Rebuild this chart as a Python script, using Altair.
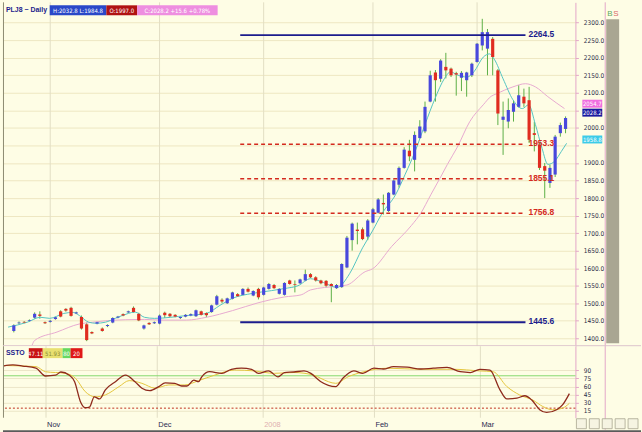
import altair as alt
import pandas as pd

# ---------------- data ----------------
bar_index = list(range(107))
opens = [1421, 1443, 1447, 1450, 1459, 1468, 1446, 1447, 1455, 1477,
         1484, 1487, 1471, 1461, 1440, 1418, 1442, 1428, 1435, 1445,
         1459, 1469, 1474, 1487, 1470, 1428, 1444, 1443, 1442, 1473,
         1470, 1467, 1458, 1462, 1465, 1463, 1477, 1472, 1475, 1496,
         1510, 1500, 1513, 1526, 1524, 1541, 1522, 1541, 1524, 1541,
         1552, 1527, 1524, 1565, 1555, 1557, 1565, 1583, 1574, 1565,
         1564, 1555, 1543, 1546, 1602, 1680, 1710, 1711, 1690, 1730,
         1758, 1786, 1763, 1810, 1838, 1886, 1935, 1909, 1971, 1990,
         2075, 2158, 2140, 2174, 2169, 2156, 2143, 2136, 2150, 2188,
         2235, 2226, 2254, 2164, 2023, 2018, 2046, 2060, 2089, 2079,
         1985, 1952, 1891, 1843, 1867, 1985, 1997]
highs = [1440, 1448, 1449, 1454, 1474, 1477, 1448, 1452, 1462, 1480,
         1486, 1490, 1476, 1465, 1445, 1420, 1448, 1431, 1440, 1460,
         1464, 1471, 1479, 1491, 1473, 1439, 1446, 1448, 1468, 1476,
         1472, 1469, 1462, 1469, 1471, 1482, 1479, 1474, 1496, 1524,
         1514, 1516, 1533, 1529, 1543, 1545, 1537, 1544, 1547, 1558,
         1555, 1543, 1560, 1567, 1565, 1570, 1596, 1586, 1577, 1567,
         1566, 1557, 1555, 1614, 1692, 1730, 1730, 1716, 1740, 1772,
         1800, 1810, 1817, 1853, 1890, 1945, 1966, 1990, 2022, 2075,
         2163, 2165, 2196, 2214, 2172, 2160, 2162, 2160, 2186, 2242,
         2311, 2282, 2259, 2168, 2075, 2084, 2079, 2122, 2112, 2117,
         2018, 1958, 1900, 1895, 1980, 2015, 2032.8]
lows = [1417, 1440, 1443, 1447, 1456, 1456, 1441, 1445, 1453, 1460,
        1476, 1462, 1469, 1425, 1392, 1412, 1440, 1419, 1432, 1443,
        1457, 1463, 1472, 1473, 1449, 1425, 1438, 1441, 1440, 1458,
        1460, 1460, 1455, 1460, 1463, 1461, 1465, 1460, 1473, 1494,
        1500, 1498, 1511, 1518, 1522, 1531, 1520, 1511, 1522, 1539,
        1541, 1525, 1522, 1553, 1531, 1555, 1563, 1572, 1562, 1554,
        1545, 1503, 1541, 1544, 1600, 1650, 1668, 1680, 1680, 1728,
        1756, 1753, 1760, 1808, 1830, 1884, 1905, 1876, 1969, 1985,
        2073, 2075, 2131, 2141, 2145, 2092, 2105, 2089, 2145, 2186,
        2221, 2150, 2150, 2008, 1923, 1999, 2018, 2058, 2060, 1957,
        1933, 1880, 1800, 1829, 1860, 1975, 1984.8]
closes = [1437, 1445, 1445, 1452, 1470, 1464, 1443, 1450, 1460, 1462,
          1479, 1464, 1474, 1428, 1395, 1414, 1446, 1421, 1438, 1458,
          1462, 1465, 1477, 1475, 1451, 1437, 1440, 1446, 1465, 1466,
          1463, 1462, 1461, 1467, 1469, 1480, 1467, 1466, 1494, 1520,
          1505, 1514, 1531, 1520, 1541, 1533, 1535, 1517, 1545, 1555,
          1543, 1541, 1558, 1555, 1553, 1568, 1583, 1574, 1565, 1557,
          1550, 1549, 1552, 1612, 1687, 1727, 1706, 1683, 1736, 1768,
          1796, 1782, 1815, 1850, 1886, 1938, 1919, 1980, 2004, 2060,
          2150, 2136, 2192, 2164, 2150, 2152, 2157, 2158, 2183, 2240,
          2273, 2273, 2202, 2041, 2032, 2051, 2070, 2093, 2070, 1966,
          1980, 1886, 1878, 1886, 1975, 2008, 2028.2]

month_idx = [7, 28, 48, 69, 89]
month_names = ["Nov", "Dec", "2008", "Feb", "Mar"]

ma_long_x = [3.5, 4.0, 8.3, 12.6, 15.2, 17.6, 21.4, 25.1, 28.3, 33.2, 37.0, 42.0,
             47.1, 52.0, 55.2, 57.0, 62.4, 64.0, 67.5, 68.9, 72.6, 76.4, 78.2,
             80.1, 82.0, 83.3, 85.2, 87.6, 90.2, 91.7, 92.7, 95.9, 98.3, 100.2,
             102.6, 105.8]
ma_long_y = [1380, 1394, 1418, 1441, 1446, 1450, 1453, 1454, 1452, 1452, 1460, 1479,
             1502, 1518, 1524, 1538, 1549, 1552, 1590, 1598, 1662, 1722, 1757,
             1809, 1860, 1896, 1945, 2018, 2066, 2090, 2097, 2117, 2126, 2117,
             2089, 2055]

ma_short_x = [-1.1, 2.6, 5.1, 6.9, 9.6, 11.4, 12.6, 14.4, 15.8, 17.6, 19.5, 22.0,
              23.3, 25.1, 27.0, 33.2, 37.0, 39.6, 42.0, 45.8, 49.5, 52.0, 54.6,
              57.0, 59.5, 62.1, 64.5, 67.0, 68.9, 70.7, 73.4, 75.2, 77.1, 79.0,
              80.9, 82.7, 83.9, 85.2, 87.1, 88.4, 90.2, 91.4, 92.3, 94.0, 95.9,
              97.7, 98.9, 100.2, 101.5, 102.6, 103.9, 105.2, 106.2]
ma_short_y = [1432, 1446, 1460, 1457, 1471, 1474, 1465, 1446, 1443, 1446, 1457, 1471,
              1475, 1460, 1457, 1465, 1471, 1494, 1514, 1528, 1536, 1542, 1550,
              1570, 1559, 1545, 1584, 1658, 1706, 1755, 1811, 1868, 1933, 2010,
              2083, 2140, 2160, 2151, 2145, 2160, 2202, 2211, 2196, 2140, 2080,
              2055, 2066, 2010, 1941, 1896, 1905, 1933, 1956]

stoch_k_x = [-1.1, 0.75, 2.6, 5.1, 6.9, 8.8, 9.8, 11.4, 12.4, 13.5, 14.4, 15.2, 16.1,
             17.1, 18.2, 20.1, 22.0, 23.8, 25.1, 26.6, 28.3, 29.5, 31.3, 32.6, 33.6,
             34.9, 35.8, 36.4, 37.9, 40.2, 42.0, 43.9, 45.8, 47.1, 49.0, 50.8, 52.0,
             53.8, 55.7, 57.0, 58.3, 58.9, 61.7, 63.0, 65.1, 66.8, 68.9, 70.7, 72.6,
             75.2, 77.7, 80.1, 82.7, 85.2, 87.1, 88.9, 90.8, 92.7, 94.0, 95.9, 97.4,
             98.7, 100.2, 101.5, 103.4, 104.5, 105.8]
stoch_k_y = [98, 100, 98, 94, 79.6, 81, 87, 81, 69, 32, 21, 22, 41,
             37, 54, 69, 81, 69, 57, 52.5, 60, 67, 66, 61, 61,
             72, 69, 78, 87.5, 84.5, 92, 94, 92, 84.5, 89, 78, 86,
             87, 89, 84.5, 73.5, 69, 60, 75, 89, 84.5, 94, 92.5, 97,
             96, 92.5, 94, 95.5, 87.5, 86, 92, 90.5, 54, 37, 38.5, 43,
             35, 17, 12, 17, 26, 47]
stoch_d_x = [-1.1, 5.1, 6.9, 10.7, 12.6, 14.4, 16.3, 18.2, 20.8, 22.7, 25.1, 27.6,
             30.2, 33.2, 35.8, 38.8, 42.6, 46.3, 50.1, 53.8, 57.6, 58.9, 61.7, 64.0,
             67.0, 71.5, 77.7, 83.9, 88.9, 91.4, 94.0, 96.4, 98.9, 100.8, 102.6,
             104.5, 105.8]
stoch_d_y = [99, 97, 87.5, 84.5, 75, 50.6, 41, 44.5, 60, 71, 66, 57,
             63, 63, 71, 81, 90.6, 89, 84.5, 86, 81, 75, 66, 78,
             87.5, 94, 92, 92, 89, 87.5, 60, 44.5, 35, 23, 17,
             20, 29]

blue_levels = [2264.5, 1445.6]
red_levels = [1953.3, 1855.1, 1756.8]
level_start = 43.5
level_end = 98.3

price_ticks = list(range(1400, 2301, 50))
stoch_ticks = [15, 30, 45, 60, 75, 90]

# ---------------- styling ----------------
F = "Liberation Sans Narrow, DejaVu Sans Condensed, Liberation Sans, sans-serif"
FB = "Liberation Sans, DejaVu Sans, sans-serif"
BG = "#fefde5"
UP = "#4848dc"
DOWN = "#e02c20"
WICK = "#5cae46"
NAVY = "#1c1c8c"
RED = "#d42a1e"
GRIDV = "#e2dec4"
GRIDH = "#eee7c2"
PINK = "#e3a6c9"

W = 576
H1 = 346
H2 = 72
xs = alt.Scale(domain=[-1.125, 106.94], nice=False, zero=False)
ys = alt.Scale(domain=[1377.6, 2358.0], nice=False, zero=False)
ss = alt.Scale(domain=[2.2, 134.8], nice=False, zero=False)

# labels hidden behind the value tags (as in the reference)
yaxis = alt.Axis(orient="right", values=price_ticks, title=None,
                 labelExpr="(datum.value == 2050 || datum.value == 1950) ? '' : format(datum.value, '.1f')",
                 labelFont=F, labelFontSize=6.5, labelColor="#2a2a48", labelPadding=5,
                 tickSize=3, tickColor=PINK, domainColor=PINK, grid=True,
                 gridColor=GRIDH, gridWidth=1)
saxis = alt.Axis(orient="right", values=stoch_ticks, format="d", title=None,
                 labelFont=F, labelFontSize=6.5, labelColor="#2a2a48", labelPadding=5,
                 tickSize=3, tickColor=PINK, domainColor=PINK, grid=True,
                 gridColor="#ece6c8", gridWidth=1)

bars = pd.DataFrame({"i": bar_index, "o": opens, "h": highs, "l": lows, "c": closes})
bars["dir"] = ["up" if c >= o else "down" for o, c in zip(opens, closes)]
months = pd.DataFrame({"i": month_idx, "name": month_names})
ma_long = pd.DataFrame({"i": ma_long_x, "v": ma_long_y})
ma_short = pd.DataFrame({"i": ma_short_x, "v": ma_short_y})
kdf = pd.DataFrame({"i": stoch_k_x, "v": stoch_k_y})
ddf = pd.DataFrame({"i": stoch_d_x, "v": stoch_d_y})
blue_df = pd.DataFrame({"v": blue_levels, "s": level_start, "e": level_end,
                        "t": [f"{v:.1f}" for v in blue_levels]})
red_df = pd.DataFrame({"v": red_levels, "s": level_start, "e": level_end,
                       "t": [f"{v:.1f}" for v in red_levels]})
one = pd.DataFrame({"a": [0]})


def box(text, x0, x1, y0, y1, fill, tcolor, fs=6, bold=False, font=F, stroke=None):
    base = alt.Chart(pd.DataFrame({"t": [text]}))
    kw = {"fill": fill}
    if stroke:
        kw["stroke"] = stroke
        kw["strokeWidth"] = 0.8
    r = base.mark_rect(**kw).encode(x=alt.value(x0), x2=alt.value(x1),
                                     y=alt.value(y0), y2=alt.value(y1))
    t = base.mark_text(color=tcolor, fontSize=fs, font=font, align="center",
                       baseline="middle", fontWeight="bold" if bold else "normal").encode(
        x=alt.value((x0 + x1) / 2), y=alt.value((y0 + y1) / 2 + 0.5), text="t:N")
    return r + t


def label(text, x, y, color, fs=8, bold=True, align="left", font=FB):
    return alt.Chart(pd.DataFrame({"t": [text]})).mark_text(
        color=color, fontSize=fs, font=font, align=align, baseline="middle",
        fontWeight="bold" if bold else "normal").encode(
        x=alt.value(x), y=alt.value(y), text="t:N")


# ---------------- top (price) panel ----------------
vgrid = alt.Chart(months).mark_rule(color=GRIDV, strokeWidth=1).encode(
    x=alt.X("i:Q", scale=xs, axis=None))

wicks = alt.Chart(bars).mark_rule(color=WICK, strokeWidth=1).encode(
    x=alt.X("i:Q", scale=xs, axis=None),
    y=alt.Y("l:Q", scale=ys, axis=yaxis), y2="h:Q")

bodies = alt.Chart(bars).mark_bar(size=3.2).encode(
    x=alt.X("i:Q", scale=xs, axis=None),
    y=alt.Y("o:Q", scale=ys, axis=yaxis), y2="c:Q",
    color=alt.Color("dir:N", scale=alt.Scale(domain=["up", "down"], range=[UP, DOWN]),
                    legend=None))

long_line = alt.Chart(ma_long).mark_line(color="#e7a9d0", strokeWidth=1,
                                         interpolate="monotone").encode(
    x=alt.X("i:Q", scale=xs, axis=None), y=alt.Y("v:Q", scale=ys, axis=yaxis))
short_line = alt.Chart(ma_short).mark_line(color="#55c4c2", strokeWidth=1,
                                           interpolate="monotone").encode(
    x=alt.X("i:Q", scale=xs, axis=None), y=alt.Y("v:Q", scale=ys, axis=yaxis))

blue_rules = alt.Chart(blue_df).mark_rule(color=NAVY, strokeWidth=2).encode(
    x=alt.X("s:Q", scale=xs, axis=None), x2="e:Q",
    y=alt.Y("v:Q", scale=ys, axis=yaxis))
red_rules = alt.Chart(red_df).mark_rule(color=RED, strokeWidth=1.5,
                                         strokeDash=[4, 3]).encode(
    x=alt.X("s:Q", scale=xs, axis=None), x2="e:Q",
    y=alt.Y("v:Q", scale=ys, axis=yaxis))
blue_txt = alt.Chart(blue_df).mark_text(color=NAVY, fontSize=8.5, font=FB, fontWeight="bold",
                                        align="left", baseline="middle", dx=3, dy=-1).encode(
    x=alt.X("e:Q", scale=xs, axis=None), y=alt.Y("v:Q", scale=ys, axis=yaxis), text="t:N")
red_txt = alt.Chart(red_df).mark_text(color=RED, fontSize=8.5, font=FB, fontWeight="bold",
                                      align="left", baseline="middle", dx=3, dy=-1).encode(
    x=alt.X("e:Q", scale=xs, axis=None), y=alt.Y("v:Q", scale=ys, axis=yaxis), text="t:N")

left_edge = alt.Chart(one).mark_rule(color="#8c8a72", strokeWidth=1).encode(
    x=alt.value(0.5), y=alt.value(0), y2=alt.value(H1))
pink_v = alt.Chart(one).mark_rule(color=PINK, strokeWidth=1).encode(
    x=alt.value(606), y=alt.value(0), y2=alt.value(H1))
pink_h = alt.Chart(one).mark_rule(color="#dcc4cc", strokeWidth=1).encode(
    x=alt.value(0), x2=alt.value(642), y=alt.value(H1 - 0.5))
scroll = alt.Chart(one).mark_rect(fill="#a9a692").encode(
    x=alt.value(607), x2=alt.value(620), y=alt.value(17), y2=alt.value(343))
bs_b = label("B", 608, 12, "#5fa860", fs=8, bold=False)
bs_s = label("S", 614, 12, "#d86a6a", fs=8, bold=False)

header = (label("PLJ8 ~ Daily", 3, 8, NAVY, fs=7)
          + box("H:2032.8  L:1984.8", 47, 104, 3, 13, "#2a48c8", "white", fs=6)
          + box("O:1997.0", 104, 135, 3, 13, "#b01212", "white", fs=6)
          + box("C:2028.2  +15.6  +0.78%", 135, 216, 3, 13, "#ee8ee0", "white", fs=6))

tags = (box("2054.7", 583, 603, 98, 106, "#f06ee0", "white", fs=6)
        + box("2028.2", 583, 603, 107, 115, "#1a1aa0", "white", fs=6)
        + box("1958.8", 583, 603, 134, 142, "#3ccbe8", "white", fs=6))

top = alt.layer(vgrid, wicks, long_line, short_line, bodies, blue_rules, red_rules,
                blue_txt, red_txt, left_edge, pink_v, pink_h, scroll, bs_b, bs_s,
                header, tags).properties(width=W, height=H1)

# ---------------- bottom (stochastic) panel ----------------
vgrid2 = alt.Chart(months).mark_rule(color=GRIDV, strokeWidth=1).encode(
    x=alt.X("i:Q", scale=xs, axis=None))
lvl80 = alt.Chart(pd.DataFrame({"v": [80]})).mark_rule(color="#86d86e", strokeWidth=1).encode(
    y=alt.Y("v:Q", scale=ss, axis=saxis))
lvl20 = alt.Chart(pd.DataFrame({"v": [20]})).mark_rule(color="#c0301e", strokeWidth=1,
                                                      strokeDash=[2, 2]).encode(
    y=alt.Y("v:Q", scale=ss, axis=saxis))
dline = alt.Chart(ddf).mark_line(color="#e4c63c", strokeWidth=1, interpolate="monotone").encode(
    x=alt.X("i:Q", scale=xs, axis=None), y=alt.Y("v:Q", scale=ss, axis=saxis))
kline = alt.Chart(kdf).mark_line(color="#8e2a1c", strokeWidth=1.3, interpolate="monotone").encode(
    x=alt.X("i:Q", scale=xs, axis=None), y=alt.Y("v:Q", scale=ss, axis=saxis))

mlabels = alt.Chart(months).mark_text(font=FB, fontSize=7.5, align="left", baseline="middle",
                                      dx=1).encode(
    x=alt.X("i:Q", scale=xs, axis=None), y=alt.value(H2 + 7), text="name:N",
    color=alt.condition(alt.datum.name == "2008", alt.value("#e0b0b0"), alt.value("#2a2a50")))

ssto = (label("SSTO", 3, 7, NAVY, fs=7)
        + box("47.11", 26, 40, 2, 12, "#c81414", "white", fs=6)
        + box("51.93", 40, 60, 2, 12, "#e8e070", "#8a8a30", fs=6)
        + box("80", 60, 68, 2, 12, "#66d860", "white", fs=6)
        + box("20", 68, 80, 2, 12, "#e01818", "white", fs=6))

left_edge2 = alt.Chart(one).mark_rule(color="#8c8a72", strokeWidth=1).encode(
    x=alt.value(0.5), y=alt.value(0), y2=alt.value(H2))
pink_v2 = alt.Chart(one).mark_rule(color=PINK, strokeWidth=1).encode(
    x=alt.value(606), y=alt.value(0), y2=alt.value(H2 + 12))
bottom_border = alt.Chart(one).mark_rule(color="#5a5a5a", strokeWidth=2).encode(
    x=alt.value(0), x2=alt.value(642), y=alt.value(H2 + 13.5))

btns = None
for x0, x1 in [(577, 587), (590, 600), (603, 613), (616, 626), (629, 639)]:
    b = alt.Chart(one).mark_rect(fill="#f6f4e2", stroke="#a8a690", strokeWidth=0.8).encode(
        x=alt.value(x0), x2=alt.value(x1), y=alt.value(H2 + 1), y2=alt.value(H2 + 11))
    btns = b if btns is None else btns + b

bottom = alt.layer(vgrid2, lvl80, lvl20, dline, kline, mlabels, ssto, left_edge2,
                   pink_v2, bottom_border, btns).properties(width=W, height=H2)

chart = alt.vconcat(top, bottom, spacing=0, bounds="flush").configure(
    background=BG, padding=0
).configure_view(stroke=None, fill=BG)

chart.save("out.html", embed_options={"renderer": "svg", "actions": False})
